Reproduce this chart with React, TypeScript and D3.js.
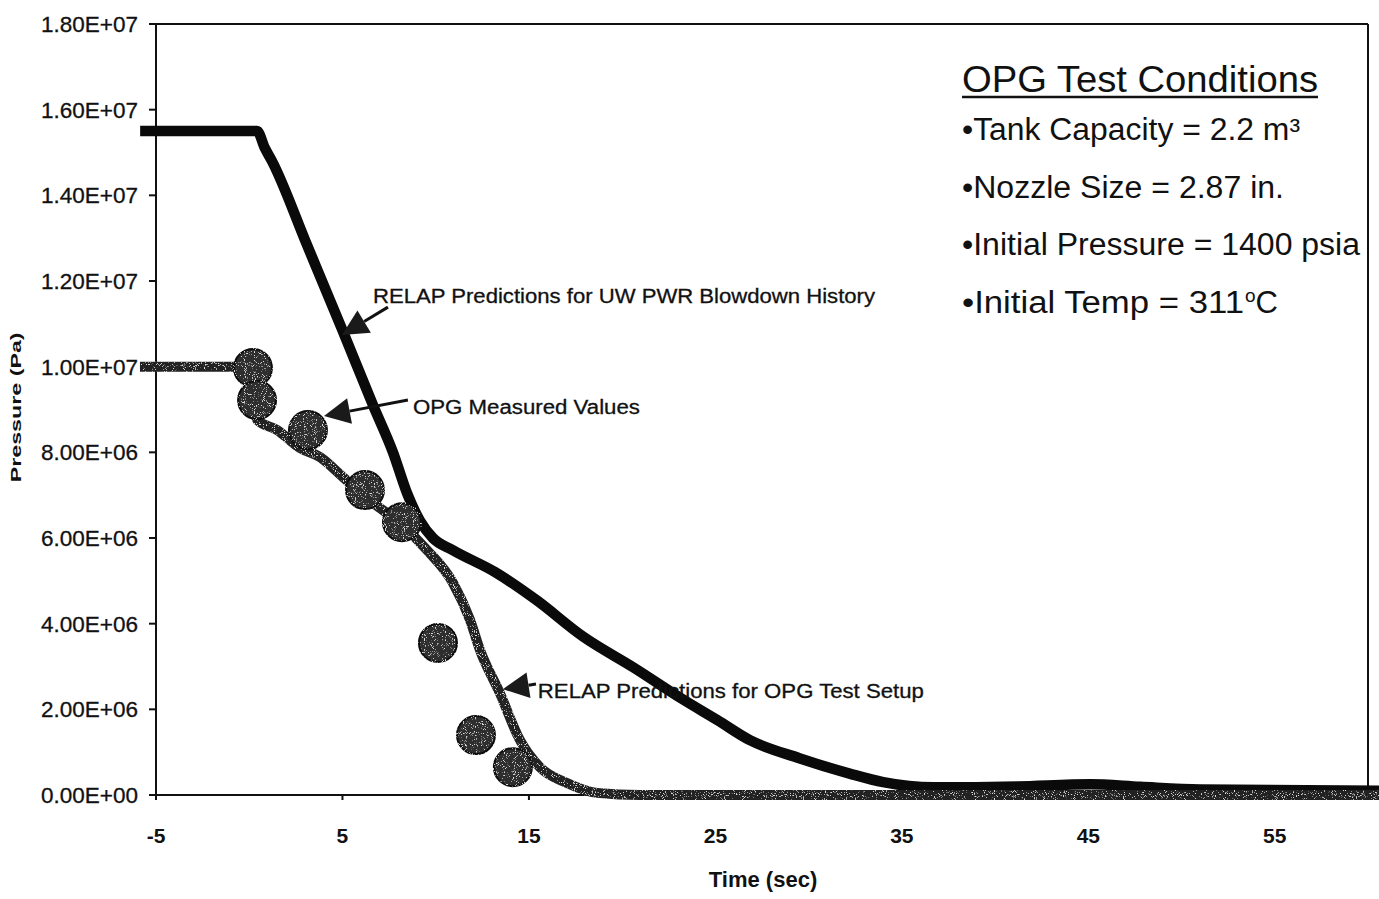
import React from 'react';
import * as d3 from 'd3';

const W = 1379;
const H = 899;
const margin = { top: 24, right: 11, bottom: 104, left: 156 };

// RELAP predictions for UW PWR blowdown history (s, Pa)
const uwTime = [-5.85, 0.42, 0.84, 1.22, 3.1, 5.0, 6.64, 7.71, 8.46, 9.16, 9.85, 10.9, 13.2, 15.4, 17.9, 20.6, 23.3, 25.1, 26.85, 29.5, 32.2, 34.0, 36.7, 41.2, 45.1, 47.8, 51.0, 60.6];
const uwPressure = [15.5e6, 15.5e6, 15.1e6, 14.8e6, 12.84e6, 10.85e6, 9.1e6, 8.0e6, 7.05e6, 6.4e6, 6.0e6, 5.72e6, 5.2e6, 4.55e6, 3.7e6, 2.98e6, 2.22e6, 1.75e6, 1.28e6, 0.86e6, 0.5e6, 0.3e6, 0.18e6, 0.2e6, 0.25e6, 0.19e6, 0.13e6, 0.1e6];

// RELAP predictions for OPG test setup
const opgTime = [-5.86, -0.2, 0.15, 0.42, 1.49, 2.72, 3.79, 5.03, 6.64, 8.08, 9.53, 10.93, 11.84, 12.37, 13.44, 14.52, 15.59, 17.04, 18.65, 20.95, 60.6];
const opgPressure = [10.0e6, 10.0e6, 9.4e6, 8.76e6, 8.52e6, 8.1e6, 7.89e6, 7.42e6, 6.82e6, 6.35e6, 5.72e6, 4.95e6, 4.09e6, 3.39e6, 2.38e6, 1.28e6, 0.65e6, 0.28e6, 0.05e6, 0, 0];

// OPG measured values
const measTime = [0.2, 0.42, 3.15, 6.21, 8.19, 10.12, 12.16, 14.14];
const measPressure = [9.97e6, 9.22e6, 8.52e6, 7.12e6, 6.37e6, 3.55e6, 1.4e6, 0.65e6];

const timeTicks = [-5, 5, 15, 25, 35, 45, 55];
const pressureTicks = [0, 2e6, 4e6, 6e6, 8e6, 10e6, 12e6, 14e6, 16e6, 18e6];

// annotations: text position and arrow tail -> tip, in data units
const notes = [
  { text: 'RELAP Predictions for UW PWR Blowdown History', tx: 6.64, ty: 11.49e6, len: 502, x1: 7.44, y1: 11.39e6, x2: 4.97, y2: 10.74e6 },
  { text: 'OPG Measured Values', tx: 8.78, ty: 8.9e6, len: 227, x1: 8.51, y1: 9.22e6, x2: 4.01, y2: 8.85e6 },
  { text: 'RELAP Predictions for OPG Test Setup', tx: 15.48, ty: 2.26e6, len: 386, x1: 15.38, y1: 2.59e6, x2: 13.6, y2: 2.47e6 },
];

const condTitle = 'OPG Test Conditions';
const condLines = ['•Tank Capacity = 2.2 m³', '•Nozzle Size = 2.87 in.', '•Initial Pressure = 1400 psia', '•Initial Temp = 311'];
const condWidths = [338, 322, 398, 282];

const font = '"Liberation Sans", Arial, sans-serif';

const fmtE = (v: number) => {
  const [m, e] = v.toExponential(2).split('e');
  const n = +e;
  return `${m}E${n < 0 ? '-' : '+'}${String(Math.abs(n)).padStart(2, '0')}`;
};

export default function App() {
  const x = d3.scaleLinear().domain([-5, 60]).range([margin.left, W - margin.right]);
  const y = d3.scaleLinear().domain([0, 1.8e7]).range([H - margin.bottom, margin.top]);

  const line = d3.line<[number, number]>()
    .x(d => x(d[0]))
    .y(d => y(d[1]))
    .curve(d3.curveMonotoneX);

  const uwPath = line(uwTime.map((t, i) => [t, uwPressure[i]]));
  const opgPath = line(opgTime.map((t, i) => [t, opgPressure[i]]));

  const x0 = x(-5);
  const x1 = x(60);
  const yTop = y(1.8e7);
  const yBot = y(0);

  return (
    <svg width={W} height={H} style={{ position: 'absolute', left: 0, top: 0, display: 'block', background: '#fff' }} fontFamily={font}>
      <defs>
        <filter id="grain" x="-5%" y="-5%" width="110%" height="110%">
          <feTurbulence type="fractalNoise" baseFrequency="1.1" numOctaves="1" seed="4" result="noise" />
          <feColorMatrix in="noise" type="matrix" values="0 0 0 0 0.7  0 0 0 0 0.7  0 0 0 0 0.7  9 0 0 0 -5.4" result="specks" />
          <feComposite in="specks" in2="SourceAlpha" operator="in" result="clipped" />
          <feMerge>
            <feMergeNode in="SourceGraphic" />
            <feMergeNode in="clipped" />
          </feMerge>
        </filter>
      </defs>

      {/* frame */}
      <line x1={x0} x2={x1} y1={yTop} y2={yTop} stroke="#111" strokeWidth={2} />
      <line x1={x1} x2={x1} y1={yTop} y2={yBot} stroke="#111" strokeWidth={2} />
      <line x1={x0} x2={x0} y1={yTop} y2={yBot} stroke="#111" strokeWidth={2} />
      <line x1={x0} x2={x1} y1={yBot} y2={yBot} stroke="#111" strokeWidth={2} />

      {/* y axis */}
      {pressureTicks.map(v => (
        <g key={v}>
          <line x1={x0 - 7} x2={x0} y1={y(v)} y2={y(v)} stroke="#111" strokeWidth={2} />
          <text x={x0 - 18} y={y(v)} dy="0.36em" textAnchor="end" fontSize={22.5} fill="#111" stroke="#111" strokeWidth={0.3}>{fmtE(v)}</text>
        </g>
      ))}
      <text transform={`translate(21,${y(0.905e7)}) rotate(-90)`} textAnchor="middle" fontSize={14} fontWeight="bold" textLength={150} lengthAdjust="spacingAndGlyphs" fill="#111">Pressure (Pa)</text>

      {/* x axis */}
      {timeTicks.map(v => (
        <g key={v}>
          <line x1={x(v)} x2={x(v)} y1={yBot} y2={yBot + 5} stroke="#111" strokeWidth={2} />
          <text x={x(v)} y={yBot + 48} textAnchor="middle" fontSize={21} fontWeight="bold" fill="#111">{v}</text>
        </g>
      ))}
      <text x={763} y={yBot + 92} textAnchor="middle" fontSize={22} fontWeight="bold" fill="#111">Time (sec)</text>

      {/* series */}
      <path d={uwPath ?? ''} fill="none" stroke="#0a0a0a" strokeWidth={10.5} />
      <path d={opgPath ?? ''} fill="none" stroke="#222" strokeWidth={10} filter="url(#grain)" />
      <g filter="url(#grain)">
        {measTime.map((t, i) => (
          <circle key={i} cx={x(t)} cy={y(measPressure[i])} r={19} fill="#2e2e2e" stroke="#111" strokeWidth={2} />
        ))}
      </g>

      {/* annotations */}
      {notes.map((n, i) => {
        const ax = x(n.x1), ay = y(n.y1), bx = x(n.x2), by = y(n.y2);
        const ang = Math.atan2(by - ay, bx - ax);
        const hl = 26, hw = 13;
        const baseX = bx - hl * Math.cos(ang), baseY = by - hl * Math.sin(ang);
        const px = -Math.sin(ang) * hw, py = Math.cos(ang) * hw;
        return (
          <g key={i}>
            <line x1={ax} y1={ay} x2={baseX} y2={baseY} stroke="#111" strokeWidth={3} />
            <polygon points={`${bx},${by} ${baseX + px},${baseY + py} ${baseX - px},${baseY - py}`} fill="#1a1a1a" />
            <text x={x(n.tx)} y={y(n.ty)} fontSize={20} fill="#111" stroke="#111" strokeWidth={0.3} textLength={n.len} lengthAdjust="spacingAndGlyphs">{n.text}</text>
          </g>
        );
      })}

      {/* test conditions */}
      <text x={962} y={92} fontSize={36} fill="#111" textLength={356} lengthAdjust="spacingAndGlyphs">{condTitle}</text>
      <line x1={962} x2={1318} y1={97} y2={97} stroke="#111" strokeWidth={2.5} />
      {condLines.map((s, i) => (
        <text key={i} x={962} y={140 + i * 57.7} fontSize={31} fill="#111" textLength={condWidths[i]} lengthAdjust="spacingAndGlyphs">{s}</text>
      ))}
      <text x={962 + condWidths[3] + 1} y={140 + 3 * 57.7} fontSize={31} fill="#111">
        <tspan fontSize={19} dy={-11}>o</tspan>
        <tspan dy={11}>C</tspan>
      </text>
    </svg>
  );
}
